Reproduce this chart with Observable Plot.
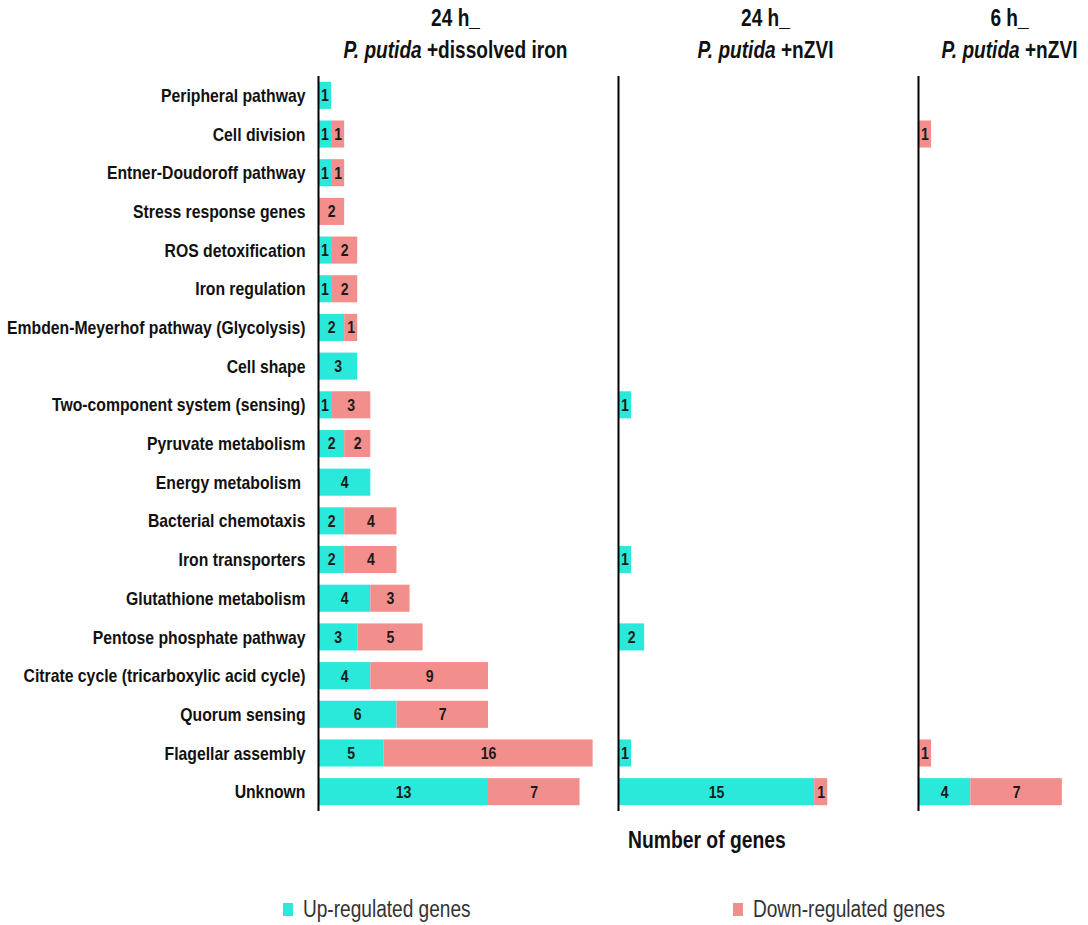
<!DOCTYPE html>
<html><head><meta charset="utf-8">
<script src="https://cdn.jsdelivr.net/npm/d3@7"></script>
<script src="https://cdn.jsdelivr.net/npm/@observablehq/plot@0.6"></script>
<style>
body{margin:0;background:#fff;font-family:"Liberation Sans",Arial,sans-serif;}
#wrap{position:relative;width:1088px;height:925px;}
#xlabel{position:absolute;left:628px;top:827px;font-weight:bold;font-size:23px;color:#111;transform:scaleX(0.84);transform-origin:left center;white-space:nowrap;}
.leg{position:absolute;top:896px;font-size:23px;color:#333;display:flex;align-items:center;white-space:nowrap;transform:scaleX(0.83);transform-origin:left center;}
.sw{width:12px;height:13px;margin-right:12px;display:inline-block;}
</style></head><body>
<div id="wrap"><div id="chart"></div>
<div id="xlabel">Number of genes</div>
<div class="leg" style="left:283px"><span class="sw" style="background:#2AE8DA"></span>Up-regulated genes</div>
<div class="leg" style="left:733px"><span class="sw" style="background:#F28E8B"></span>Down-regulated genes</div>
</div>
<script>
const categories = [
  "Peripheral pathway","Cell division","Entner-Doudoroff pathway","Stress response genes",
  "ROS detoxification","Iron regulation","Embden-Meyerhof pathway (Glycolysis)","Cell shape",
  "Two-component system (sensing)","Pyruvate metabolism","Energy metabolism ","Bacterial chemotaxis",
  "Iron transporters","Glutathione metabolism","Pentose phosphate pathway",
  "Citrate cycle (tricarboxylic acid cycle)","Quorum sensing","Flagellar assembly","Unknown"
];
const facetKeys = ["24h dissolved iron","24h nZVI","6h nZVI"];
const titleLine1 = ["24 h_","24 h_","6 h_"];
const titleLine2 = ["P. putida +dissolved iron","P. putida +nZVI","P. putida +nZVI"];
const types = ["Up-regulated genes","Down-regulated genes"];
const colors = ["#2AE8DA","#F28E8B"];

const upDissolved24   = [1,1,1,0,1,1,2,3,1,2,4,2,2,4,3,4,6,5,13];
const downDissolved24 = [0,1,1,2,2,2,1,0,3,2,0,4,4,3,5,9,7,16,7];
const upNZVI24        = [0,0,0,0,0,0,0,0,1,0,0,0,1,0,2,0,0,1,15];
const downNZVI24      = [0,0,0,0,0,0,0,0,0,0,0,0,0,0,0,0,0,0,1];
const upNZVI6         = [0,0,0,0,0,0,0,0,0,0,0,0,0,0,0,0,0,0,4];
const downNZVI6       = [0,1,0,0,0,0,0,0,0,0,0,0,0,0,0,0,0,1,7];

const series = [[upDissolved24,downDissolved24],[upNZVI24,downNZVI24],[upNZVI6,downNZVI6]];
const rows = [];
facetKeys.forEach((f, fi) => {
  categories.forEach((c, ci) => {
    types.forEach((t, ti) => {
      const v = series[fi][ti][ci];
      if (v > 0) rows.push({facet: f, category: c, type: t, value: v});
    });
  });
});

const titleDx = [52, 62, 6];
const titleMarks = [];
facetKeys.forEach((f, i) => {
  titleMarks.push(Plot.text([f], {fx: d => d, text: () => titleLine1[i], frameAnchor: "top", lineAnchor: "middle", dx: titleDx[i], dy: -58, fontSize: 23, fontWeight: "bold", fill: "#111"}));
  titleMarks.push(Plot.text([f], {fx: d => d, text: () => titleLine2[i], frameAnchor: "top", lineAnchor: "middle", dx: titleDx[i], dy: -26, fontSize: 23, fontWeight: "bold", fill: "#111"}));
});

const chart = Plot.plot({
  width: 1088, height: 870,
  marginLeft: 318, marginRight: 0, marginTop: 76, marginBottom: 59,
  x: {domain: [0, 13], axis: null},
  y: {domain: categories, paddingInner: 0.3, paddingOuter: 0.15, round: false, label: null, axis: null},
  fx: {domain: facetKeys, paddingInner: 0.4333, paddingOuter: 0, round: false, axis: null},
  color: {domain: types, range: colors},
  style: {fontFamily: '"Liberation Sans",Arial,sans-serif', background: "white", overflow: "visible"},
  marks: [
    Plot.barX(rows, {x: "value", y: "category", fx: "facet", fill: "type"}),
    Plot.text(rows, Plot.stackX({x: "value", y: "category", fx: "facet", text: "value", fill: "#1a1a1a", fontWeight: "bold", fontSize: 17})),
    Plot.ruleX([0], {stroke: "#000", strokeWidth: 2}),
    Plot.axisY({tickSize: 0, tickPadding: 13, fontSize: 19, fontWeight: "bold", label: null, color: "#111"}),
    ...titleMarks
  ]
});
document.getElementById("chart").appendChild(chart);

const svg = d3.select(chart);
svg.selectAll("text").each(function() {
  const t = this.textContent;
  const k = "P. putida";
  if (t.startsWith(k)) {
    const rest = t.slice(k.length);
    const sel = d3.select(this);
    sel.text(null);
    sel.append("tspan").attr("font-style", "italic").text(k);
    sel.append("tspan").text(rest);
  }
});
// emulate a narrow (condensed) typeface: squeeze each text horizontally about its anchor
svg.selectAll("text").each(function() {
  const ax = +(this.getAttribute("x") || 0);
  const tr = this.getAttribute("transform") || "";
  this.setAttribute("transform", `${tr} translate(${ax},0) scale(0.83,1) translate(${-ax},0)`.trim());
});
</script>
</body></html>
